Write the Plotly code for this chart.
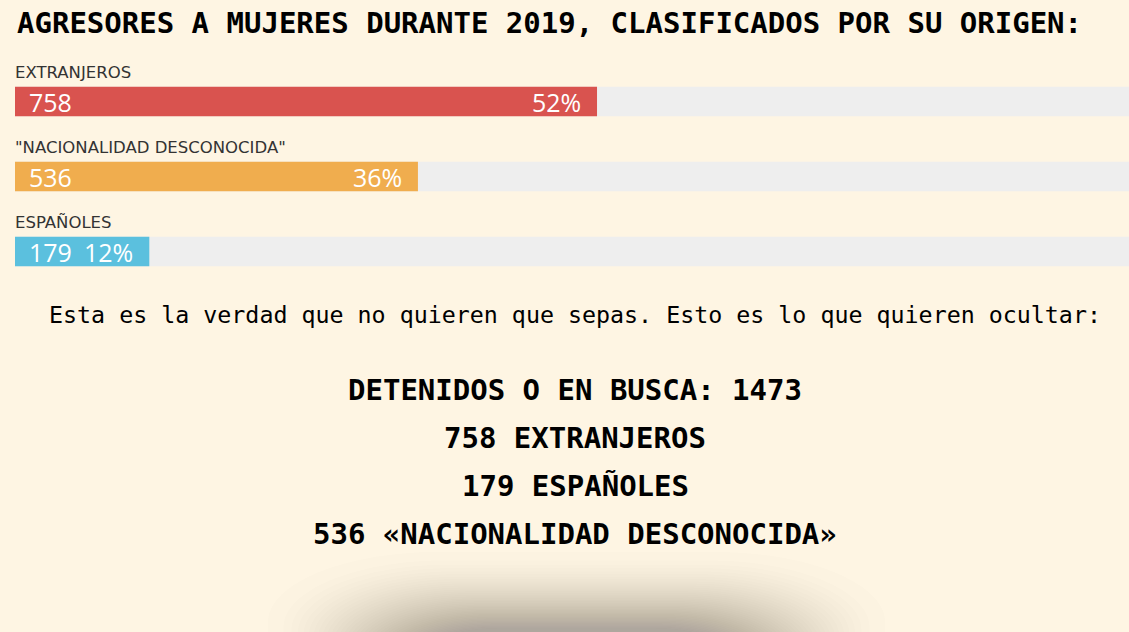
import plotly.graph_objects as go

# ---- data ----
categories = ['EXTRANJEROS', '"NACIONALIDAD DESCONOCIDA"', 'ESPAÑOLES']
counts = [758, 536, 179]
percents = [52, 36, 12]
colors = ['#d9534f', '#f0ad4e', '#5bc0de']
track_value = [100, 100, 100]

title_text = 'AGRESORES A MUJERES DURANTE 2019, CLASIFICADOS POR SU ORIGEN:'
subtitle_text = 'Esta es la verdad que no quieren que sepas. Esto es lo que quieren ocultar:'
summary_lines = ['DETENIDOS O EN BUSCA: 1473', '758 EXTRANJEROS', '179 ESPAÑOLES',
                 '536 «NACIONALIDAD DESCONOCIDA»']

W, H = 1129, 632
BG = '#fef5e3'

fig = go.Figure()

fig.add_trace(go.Bar(
    y=categories, x=track_value, orientation='h',
    marker=dict(color='#eeeeee', line=dict(width=0)),
    width=0.395, hoverinfo='skip', showlegend=False,
))
fig.add_trace(go.Bar(
    y=categories, x=percents, orientation='h',
    marker=dict(color=colors, line=dict(width=0), cornerradius=2),
    width=0.395, hoverinfo='skip', showlegend=False,
))

annotations = []
for cat, c, p in zip(categories, counts, percents):
    annotations.append(dict(
        x=0, y=cat, xref='x', yref='y', text=cat, showarrow=False,
        xanchor='left', yanchor='middle', yshift=29, xshift=-2,
        font=dict(family='DejaVu Sans, sans-serif', size=16.5, color='#333333'),
    ))
    annotations.append(dict(
        x=0, y=cat, xref='x', yref='y', text=str(c), showarrow=False,
        xanchor='left', yanchor='middle', xshift=12, yshift=0,
        font=dict(family='Open Sans, Lato, sans-serif', size=25, color='white'),
    ))
    annotations.append(dict(
        x=p, y=cat, xref='x', yref='y', text=f'{p}%', showarrow=False,
        xanchor='right', yanchor='middle', xshift=-14, yshift=0,
        font=dict(family='Open Sans, Lato, sans-serif', size=25, color='white'),
    ))

annotations.append(dict(
    x=15 / W, y=1 - 23 / H, xref='paper', yref='paper', text=f'<b>{title_text}</b>',
    showarrow=False, xanchor='left', yanchor='middle',
    font=dict(family='DejaVu Sans Mono, monospace', size=29, color='#000000'),
))
annotations.append(dict(
    x=575 / W, y=1 - 314 / H, xref='paper', yref='paper', text=subtitle_text,
    showarrow=False, xanchor='center', yanchor='middle',
    font=dict(family='DejaVu Sans Mono, monospace', size=23.3, color='#000000'),
))
for i, line in enumerate(summary_lines):
    annotations.append(dict(
        x=575 / W, y=1 - (390 + 48 * i) / H, xref='paper', yref='paper',
        text=f'<b>{line}</b>', showarrow=False, xanchor='center', yanchor='middle',
        font=dict(family='DejaVu Sans Mono, monospace', size=29, color='#000000'),
    ))


def rounded_box(x0, x1, y0, y1, rx, ry):
    """SVG path (paper coords) for a rounded box given pixel coords (y down)."""
    px = lambda v: v / W
    py = lambda v: 1 - v / H
    return (f'M{px(x0 + rx)},{py(y0)} L{px(x1 - rx)},{py(y0)} '
            f'C{px(x1 - rx * 0.45)},{py(y0)} {px(x1)},{py(y0 + ry * 0.45)} {px(x1)},{py(y0 + ry)} '
            f'L{px(x1)},{py(y1)} L{px(x0)},{py(y1)} L{px(x0)},{py(y0 + ry)} '
            f'C{px(x0)},{py(y0 + ry * 0.45)} {px(x0 + rx * 0.45)},{py(y0)} {px(x0 + rx)},{py(y0)} Z')


# soft shadow at the bottom (layered translucent rounded boxes)
shapes = []
n = 40
for i in range(n):
    s = (i / (n - 1)) ** 0.6
    x0 = 268 + 140 * s
    x1 = 885 - 140 * s
    y0 = 552 + 76 * s
    shapes.append(dict(
        type='path', xref='paper', yref='paper',
        path=rounded_box(x0, x1, y0, 700, 170 - 80 * s, 70 - 30 * s),
        fillcolor='rgb(60,52,44)', opacity=0.011, line=dict(width=0), layer='below',
    ))

fig.update_layout(
    width=W, height=H,
    margin=dict(l=0, r=0, t=0, b=0),
    paper_bgcolor=BG, plot_bgcolor='rgba(0,0,0,0)',
    barmode='overlay',
    xaxis=dict(domain=[15 / W, 1], range=[0, 99.53], visible=False, fixedrange=True),
    yaxis=dict(domain=[1 - 292 / H, 1 - 64 / H], categoryorder='array',
               categoryarray=categories, autorange='reversed', visible=False,
               fixedrange=True),
    annotations=annotations,
    shapes=shapes,
    showlegend=False,
)

fig.write_html(
    'out.html',
    config={'displayModeBar': False, 'responsive': False},
    post_script="document.body.style.margin='0';document.body.style.overflow='hidden';",
)
